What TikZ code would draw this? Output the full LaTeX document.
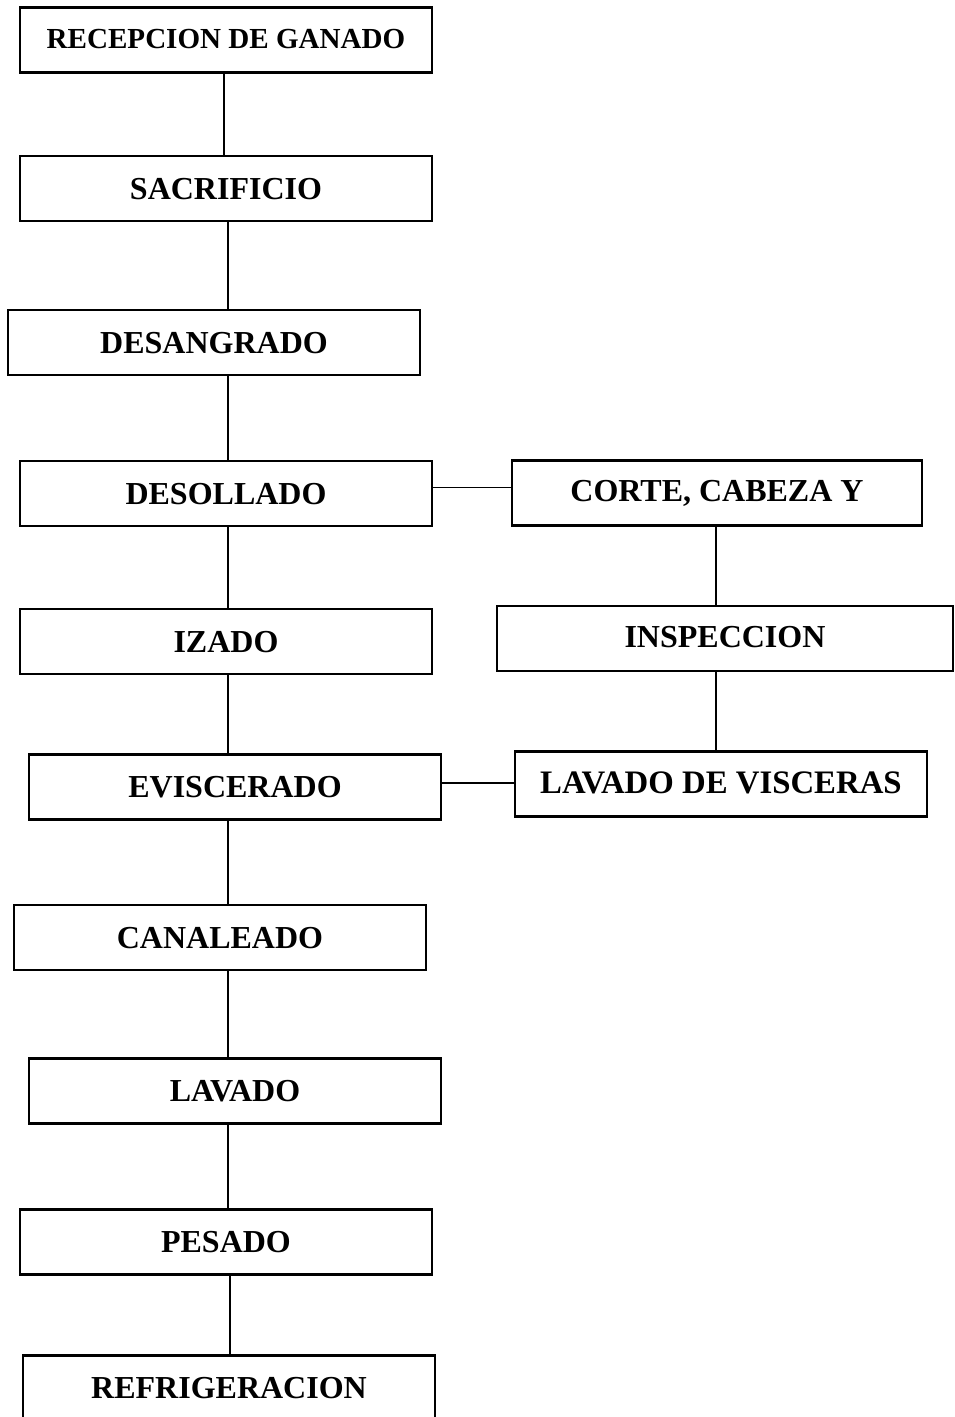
\documentclass[tikz,border=0pt]{standalone}
\usepackage{fontspec}
\setmainfont{Liberation Serif}
\usepackage{tikz}

\begin{document}
\begin{tikzpicture}[x=0.75pt, y=-0.75pt,
    paso/.style={draw, line width=1.6pt, rectangle, inner sep=0pt, outer sep=0pt,
      minimum width=309pt, minimum height=48.75pt, text height=15.9pt, text depth=0pt,
      font=\fontsize{24}{28}\selectfont\bfseries},
    enlace/.style={line width=0.8pt}]
          \useasboundingbox (0, 0) rectangle (954, 1417);
          \coordinate (spine) at (228, 0);
          \coordinate (rspine) at (716, 0);
          \node [paso, text height=14.6pt, text depth=1.5pt, font=\fontsize{21.8}{26}\selectfont\bfseries] (recep) at (226, 40) {RECEPCION DE GANADO};
          \node [paso] (sacri) at (226, 188.5) {SACRIFICIO};
          \node [paso] (desan) at (214, 342.5) {DESANGRADO};
          \node [paso] (desol) at (226, 493.5) {DESOLLADO};
          \node [paso] (izado) at (226, 641.5) {IZADO};
          \node [paso] (evisc) at (235, 787) {EVISCERADO};
          \node [paso] (canal) at (220, 937.5) {CANALEADO};
          \node [paso] (lavado) at (235, 1091) {LAVADO};
          \node [paso] (pesado) at (226, 1242) {PESADO};
          \node [paso] (refri) at (229, 1388) {REFRIGERACION};
          \node [paso, minimum width=307.5pt, text depth=2.5pt] (corte) at (717, 493) {CORTE, CABEZA Y};
          \node [paso, minimum width=342pt, text depth=2.5pt] (inspec) at (725, 638.5) {INSPECCION};
          \node [paso, text depth=2pt, font=\fontsize{24.6}{28}\selectfont\bfseries] (lavvis) at (721, 784) {LAVADO DE VISCERAS};
          \draw [enlace] (recep.south -| 224, 0) -- (sacri.north -| 224, 0);
          \draw [enlace] (sacri.south -| spine) -- (desan.north -| spine);
          \draw [enlace] (desan.south -| spine) -- (desol.north -| spine);
          \draw [enlace] (desol.south -| spine) -- (izado.north -| spine);
          \draw [enlace] (izado.south -| spine) -- (evisc.north -| spine);
          \draw [enlace] (evisc.south -| spine) -- (canal.north -| spine);
          \draw [enlace] (canal.south -| spine) -- (lavado.north -| spine);
          \draw [enlace] (lavado.south -| spine) -- (pesado.north -| spine);
          \draw [enlace] (pesado.south -| 230, 0) -- (refri.north -| 230, 0);
          \draw [enlace] ([yshift=4.5pt]desol.east) -- ([yshift=4.5pt]desol.east -| corte.west);
          \draw [enlace] ([yshift=3pt]evisc.east) -- ([yshift=3pt]evisc.east -| lavvis.west);
          \draw [enlace] (corte.south -| rspine) -- (inspec.north -| rspine);
          \draw [enlace] (inspec.south -| rspine) -- (lavvis.north -| rspine);
        \end{tikzpicture}
\end{document}
